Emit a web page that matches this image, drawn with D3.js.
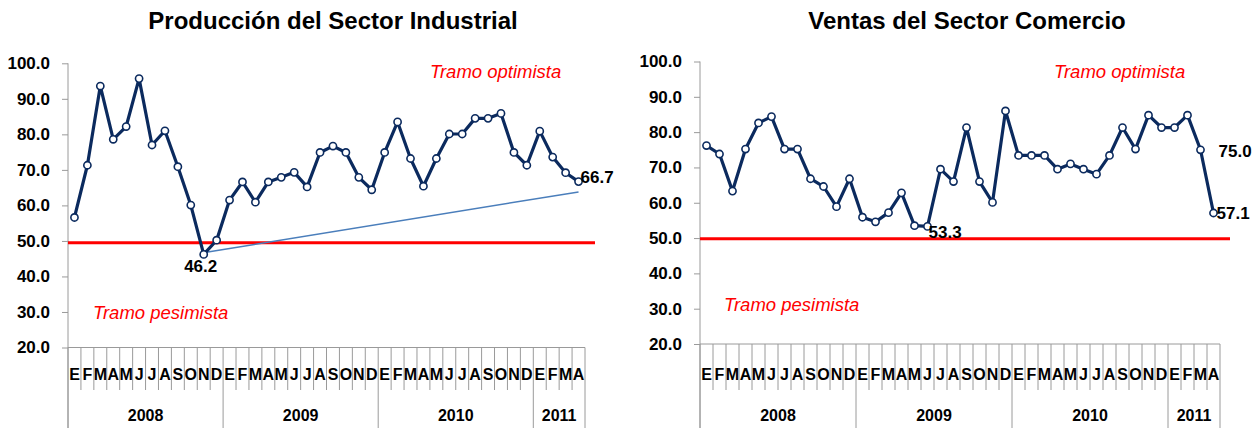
<!DOCTYPE html>
<html>
<head>
<meta charset="utf-8">
<script src="https://cdn.jsdelivr.net/npm/d3@7"></script>
<style>
  body { margin: 0; background: #fff; }
  svg { font-family: "Liberation Sans", Arial, sans-serif; }
</style>
</head>
<body>
<svg id="chart" width="1260" height="428"></svg>
<script>
// months (E..D) and year groups
const monthLetters = ["E","F","M","A","M","J","J","A","S","O","N","D"];
const years = ["2008", "2009", "2010", "2011"];
const monthsPerYear = [12, 12, 12, 4];

// Producción del Sector Industrial, ene 2008 - abr 2011
const produccion = [
  56.6, 71.3, 93.6, 78.6, 82.2, 95.7, 77.0, 81.0, 70.9, 60.1, 46.2, 50.2,
  61.5, 66.6, 60.9, 66.6, 67.9, 69.3, 65.2, 74.9, 76.7, 74.9, 67.9, 64.4,
  74.9, 83.5, 73.2, 65.4, 73.2, 80.1, 80.1, 84.5, 84.5, 85.9, 74.9, 71.3,
  80.9, 73.6, 69.2, 66.7
];

// Ventas del Sector Comercio, ene 2008 - abr 2011
const ventas = [
  76.2, 73.8, 63.3, 75.2, 82.6, 84.4, 75.2, 75.2, 66.8, 64.6, 58.9, 66.8,
  55.9, 54.6, 57.2, 62.8, 53.5, 53.3, 69.5, 66.0, 81.3, 66.0, 60.1, 86.0,
  73.4, 73.4, 73.4, 69.5, 71.0, 69.5, 68.1, 73.4, 81.3, 75.2, 84.8, 81.3,
  81.3, 84.8, 75.0, 57.1
];

const yTicks = [20, 30, 40, 50, 60, 70, 80, 90, 100];
const thresholdProd = 49.5;
const thresholdVentas = 49.8;
// trend line in the first panel: [index, value]
const trendProd = [[10.2, 46.8], [39.0, 63.8]];
// labelled points (index into series)
const labelsProd = [10, 39];
const labelsVentas = [17, 38, 39];

const svg = d3.select("#chart");

const categories = [];
years.forEach((y, yi) => {
  for (let m = 0; m < monthsPerYear[yi]; m++) categories.push(y + "-" + m);
});

function drawPanel(opt) {
  const g = svg.append("g");
  const x = d3.scaleBand().domain(categories).range([opt.left, opt.right]);
  const y = d3.scaleLinear().domain([20, 100]).range([opt.bottom, opt.top]);
  const cx = i => x(categories[i]) + x.bandwidth() / 2;
  const xi = v => opt.left + (v + 0.5) * x.step();
  const axisColor = "#9a9a9a";

  // title
  g.append("text")
    .attr("x", opt.titleX).attr("y", 29)
    .attr("text-anchor", "middle")
    .style("font-size", "24px").style("font-weight", "bold")
    .text(opt.title);

  // y axis
  const yAxis = g.append("g")
    .attr("transform", "translate(" + opt.left + ",0)")
    .call(d3.axisLeft(y).tickValues(yTicks).tickSize(6).tickSizeOuter(0).tickFormat(d3.format(".1f")).tickPadding(12));
  yAxis.select(".domain").remove();
  yAxis.selectAll(".tick line").attr("stroke", axisColor);
  yAxis.selectAll(".tick text")
    .style("font-size", "17px").style("font-weight", "bold").attr("fill", "#000");
  g.append("line")
    .attr("x1", opt.left).attr("x2", opt.left)
    .attr("y1", y(100)).attr("y2", 428)
    .attr("stroke", axisColor);

  // category axis
  g.append("line")
    .attr("x1", opt.left).attr("x2", opt.right)
    .attr("y1", y(20)).attr("y2", y(20))
    .attr("stroke", axisColor);

  const boundaries = d3.range(categories.length + 1);
  let yearStarts = [0];
  monthsPerYear.forEach((n, i) => yearStarts.push(yearStarts[i] + n));
  g.selectAll(".mtick").data(boundaries).enter().append("line")
    .attr("x1", d => opt.left + d * x.step())
    .attr("x2", d => opt.left + d * x.step())
    .attr("y1", y(20))
    .attr("y2", d => yearStarts.includes(d) ? 428 : 390)
    .attr("stroke", axisColor);

  g.selectAll(".mlab").data(categories).enter().append("text")
    .attr("x", d => x(d) + x.bandwidth() / 2)
    .attr("y", 380)
    .attr("text-anchor", "middle")
    .style("font-size", "16px").style("font-weight", "bold")
    .text(d => monthLetters[+d.split("-")[1]]);

  g.selectAll(".ylab").data(years).enter().append("text")
    .attr("x", (d, i) => opt.left + (yearStarts[i] + monthsPerYear[i] / 2) * x.step())
    .attr("y", 421)
    .attr("text-anchor", "middle")
    .style("font-size", "16px").style("font-weight", "bold")
    .text(d => d);

  // threshold line
  g.append("line")
    .attr("x1", opt.left).attr("x2", opt.right + 10)
    .attr("y1", y(opt.threshold)).attr("y2", y(opt.threshold))
    .attr("stroke", "#ff0000").attr("stroke-width", 3);

  // zone captions
  g.append("text")
    .attr("x", opt.optX).attr("y", 78)
    .style("font-size", "18.5px").style("font-style", "italic").attr("fill", "#ff0000")
    .text("Tramo optimista");
  g.append("text")
    .attr("x", opt.pesX).attr("y", opt.pesY)
    .style("font-size", "18.5px").style("font-style", "italic").attr("fill", "#ff0000")
    .text("Tramo pesimista");

  if (opt.trend) {
    g.append("line")
      .attr("x1", xi(opt.trend[0][0])).attr("y1", y(opt.trend[0][1]))
      .attr("x2", xi(opt.trend[1][0])).attr("y2", y(opt.trend[1][1]))
      .attr("stroke", "#4a7ebb").attr("stroke-width", 1.5);
  }

  const line = d3.line().x((d, i) => cx(i)).y(d => y(d));
  g.append("path")
    .attr("d", line(opt.values))
    .attr("fill", "none").attr("stroke", "#0b2a5e").attr("stroke-width", 3.2)
    .attr("stroke-linejoin", "round");

  g.selectAll(".pt").data(opt.values).enter().append("circle")
    .attr("cx", (d, i) => cx(i)).attr("cy", d => y(d))
    .attr("r", 3.6)
    .attr("fill", "#fff").attr("stroke", "#0b2a5e").attr("stroke-width", 1.6);

  opt.labels.forEach((idx, k) => {
    const off = opt.labelOffsets[k];
    g.append("text")
      .attr("x", cx(idx) + off[0]).attr("y", y(opt.values[idx]) + off[1])
      .attr("text-anchor", off[2])
      .style("font-size", "17px").style("font-weight", "bold")
      .text(d3.format(".1f")(opt.values[idx]));
  });
}

drawPanel({
  title: "Producción del Sector Industrial", titleX: 333,
  left: 68, right: 585, top: 63.3, bottom: 347.5,
  values: produccion, threshold: thresholdProd, trend: trendProd,
  optX: 430, pesX: 93, pesY: 319,
  labels: labelsProd,
  labelOffsets: [[-3, 18, "middle"], [2, 1, "start"]]
});

drawPanel({
  title: "Ventas del Sector Comercio", titleX: 967,
  left: 700, right: 1220, top: 61.5, bottom: 344,
  values: ventas, threshold: thresholdVentas, trend: null,
  optX: 1054, pesX: 724, pesY: 311,
  labels: labelsVentas,
  labelOffsets: [[1, 12, "start"], [18, 7, "start"], [3, 6, "start"]]
});
</script>
</body>
</html>
